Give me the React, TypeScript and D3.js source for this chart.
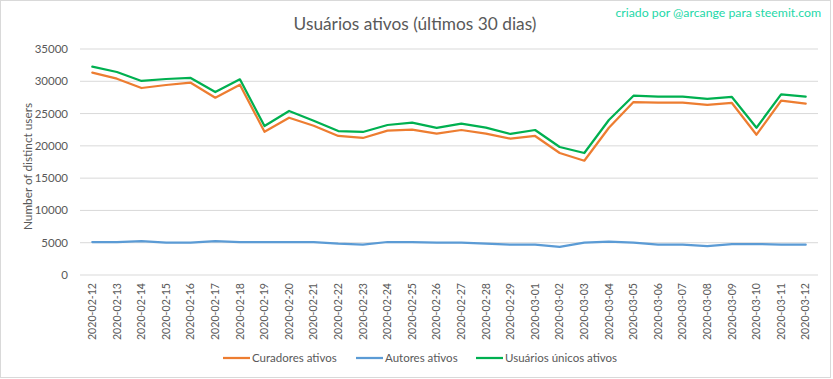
import React from "react";
import * as d3 from "d3";

const dates = [
  "2020-02-12","2020-02-13","2020-02-14","2020-02-15","2020-02-16","2020-02-17","2020-02-18",
  "2020-02-19","2020-02-20","2020-02-21","2020-02-22","2020-02-23","2020-02-24","2020-02-25",
  "2020-02-26","2020-02-27","2020-02-28","2020-02-29","2020-03-01","2020-03-02","2020-03-03",
  "2020-03-04","2020-03-05","2020-03-06","2020-03-07","2020-03-08","2020-03-09","2020-03-10",
  "2020-03-11","2020-03-12",
];

const curadores = [
  31330, 30400, 28960, 29425, 29780, 27460, 29470, 22190, 24360, 23120, 21530, 21220, 22350, 22500, 21880,
  22455, 21880, 21110, 21530, 18890, 17700, 22810, 26790, 26690, 26690, 26330, 26640, 21730, 26990, 26530,
];

const autores = [
  5110, 5110, 5265, 5000, 5000, 5265, 5110, 5110, 5110, 5110, 4850, 4700, 5110, 5110, 5000,
  5000, 4850, 4700, 4700, 4340, 5000, 5160, 5000, 4700, 4700, 4490, 4800, 4800, 4700, 4700,
];

const unicos = [
  32260, 31440, 30045, 30354, 30510, 28340, 30305, 23075, 25400, 23900, 22300, 22150, 23230, 23590, 22770,
  23430, 22810, 21840, 22455, 19820, 18890, 24000, 27770, 27610, 27610, 27260, 27570, 22810, 27980, 27610,
];

const yTicks = [0, 5000, 10000, 15000, 20000, 25000, 30000, 35000];

const seriesNames = ["Curadores ativos", "Autores ativos", "Usuários únicos ativos"];
const seriesColors = ["#ED7D31", "#5B9BD5", "#00B050"];

const W = 833;
const H = 379;
const FONT = "Lato, 'Open Sans', sans-serif";

export default function App() {
  const x = d3.scaleBand<string>().domain(dates).range([80, 818]);
  const y = d3.scaleLinear().domain([0, 35000]).range([275, 49]);
  const line = d3
    .line<number>()
    .x((_, i) => (x(dates[i]) as number) + x.bandwidth() / 2)
    .y((d) => y(d));

  const series = [curadores, autores, unicos];
  const legendX = [223, 356, 476];

  return (
    <svg
      width={W}
      height={H}
      style={{ position: "absolute", left: 0, top: 0, background: "#fff" }}
      fontFamily={FONT}
    >
      <rect x={0.5} y={0.5} width={830} height={377} fill="#fff" stroke="#d9d9d9" />
      <text x={415} y={30} textAnchor="middle" fontSize={17.3} fill="#595959">
        Usuários ativos (últimos 30 dias)
      </text>
      <text x={821} y={17} textAnchor="end" fontSize={12.3} fill="#1ed8a8">
        criado por @arcange para steemit.com
      </text>

      {yTicks.map((t) => (
        <g key={t}>
          <line x1={80} x2={818} y1={y(t)} y2={y(t)} stroke="#d9d9d9" strokeWidth={1} />
          <text x={68} y={y(t)} dy="0.35em" textAnchor="end" fontSize={11.5} fill="#595959">
            {t}
          </text>
        </g>
      ))}

      <text
        transform={`translate(32,${(103 + 230) / 2}) rotate(-90)`}
        textAnchor="middle"
        fontSize={11.8}
        fill="#595959"
      >
        Number of distinct users
      </text>

      {dates.map((d) => {
        const cx = (x(d) as number) + x.bandwidth() / 2;
        return (
          <text
            key={d}
            transform={`translate(${cx},283) rotate(-90)`}
            dy="0.35em"
            textAnchor="end"
            fontSize={10.6}
            fill="#595959"
          >
            {d}
          </text>
        );
      })}

      {series.map((s, i) => (
        <path
          key={i}
          d={line(s) as string}
          fill="none"
          stroke={seriesColors[i]}
          strokeWidth={2.25}
          strokeLinejoin="round"
          strokeLinecap="round"
        />
      ))}

      {seriesNames.map((n, i) => (
        <g key={n}>
          <line
            x1={legendX[i]}
            x2={legendX[i] + 27}
            y1={358}
            y2={358}
            stroke={seriesColors[i]}
            strokeWidth={2.25}
          />
          <text x={legendX[i] + 29} y={358} dy="0.35em" fontSize={11.5} fill="#595959">
            {n}
          </text>
        </g>
      ))}
    </svg>
  );
}
